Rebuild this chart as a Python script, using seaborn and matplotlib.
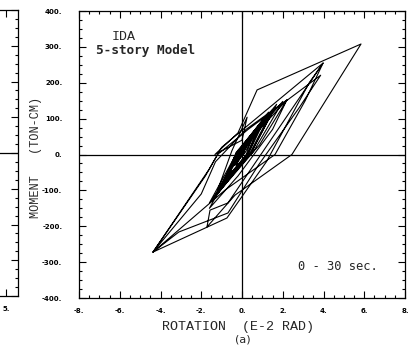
import matplotlib
matplotlib.use("Agg")
import matplotlib.pyplot as plt
import seaborn as sns
import pandas as pd
from matplotlib.ticker import MultipleLocator, FuncFormatter

# ---- data: hysteresis path (rotation E-2 rad, moment ton-cm) ----
rotation = [0.0, 0.1, -0.15, 0.2, -0.1, 0.3, -0.3,
            0.5, 0.2, -0.6,
            -0.3, 0.8, 0.3, -0.8,
            -0.3, 1.0, 0.3, -1.0,
            -0.35, 1.3, 0.25, -1.4,
            -0.2, 1.5, 0.4, -1.3,
            -0.15, 2.0, 0.55, -1.6,
            -0.25, 1.7, 0.45, -1.5,
            0.15, 2.2, 0.85, -1.2,
            -0.5, 0.25, 0.0,
            -1.33, -0.2, 0.74, 5.84, 2.45, -0.34, -1.72, -1.57, -0.69, 3.98, 3.1, 1.62,
            -0.83, -4.37, -1.6, -1.0, -0.1, 3.98, 3.3, 1.2, -0.74, -4.37, -1.8, -1.2, 0.3,
            3.86, 2.8, 0.8, -0.69, -3.1, -4.37, -2.0, -1.3, 0.2, 2.2, 1.5, -0.2, -1.6,
            -0.2, 1.6, 0.4, -1.2, -0.3, 1.1, 0.3, -0.9, -0.15, 0.6, 0.15, -0.4, 0.1, 0.0]
moment = [0, 10, -12, 20, -5, 30, -30,
          50, -2, -55,
          5, 80, 5, -70,
          2, 95, 3, -90,
          -3, 118, -4, -125,
          5, 125, 5, -115,
          6, 148, 7, -135,
          5, 140, 5, -130,
          26, 152, 26, -100,
          10, 104, 40,
          0, 60, 180, 308, 0, -113, -202, -155, -135, 255, 150, 0,
          -99, -272, -40, 20, 63, 255, 200, -20, -177, -272, -60, 0, 70,
          221, 130, -30, -163, -216, -272, -110, -20, 70, 152, 70, -60, -150,
          -5, 130, 0, -105, -5, 100, 5, -80, -5, 55, 5, -30, 5, 0]

x_ticks = [-8, -6, -4, -2, 0, 2, 4, 6, 8]
y_ticks = [-400, -300, -200, -100, 0, 100, 200, 300, 400]

df = pd.DataFrame({"rotation": rotation, "moment": moment})

sns.set_style("ticks")
plt.rcParams["font.family"] = ["DejaVu Sans"]

fig = plt.figure(figsize=(4.16, 3.46), dpi=100)

# ---- partially visible neighbouring panel on the left ----
ax0 = fig.add_axes([-0.740, 0.1445, 0.7837, 0.8266])
ax0.set_xlim(-5.4, 5.4)
ax0.set_ylim(-400, 400)
ax0.axhline(0, color="black", lw=0.9)
ax0.set_xticks([5])
ax0.xaxis.set_minor_locator(MultipleLocator(1))
ax0.yaxis.set_major_locator(MultipleLocator(100))
ax0.yaxis.set_minor_locator(MultipleLocator(25))
ax0.tick_params(which="both", direction="in", right=True, top=True, left=True, bottom=True,
                labelleft=False, labelsize=5, width=0.8, colors="black")
ax0.tick_params(which="major", length=5)
ax0.tick_params(which="minor", length=2.5)
ax0.xaxis.set_major_formatter(FuncFormatter(lambda v, p: f"{int(round(v))}."))
for lab in ax0.get_xticklabels():
    lab.set_fontweight("bold")
ax0.tick_params(axis="x", pad=7)
for s in ax0.spines.values():
    s.set_color("black")
    s.set_linewidth(0.9)

# ---- main panel ----
ax = fig.add_axes([0.1899, 0.1387, 0.7837, 0.8295])
sns.lineplot(data=df, x="rotation", y="moment", sort=False, estimator=None,
             color="black", lw=0.8, ax=ax)
ax.axhline(0, color="black", lw=0.9)
ax.axvline(0, color="black", lw=0.9)
ax.set_xlim(-8, 8)
ax.set_ylim(-400, 400)
ax.set_xticks(x_ticks)
ax.set_yticks(y_ticks)
ax.xaxis.set_minor_locator(MultipleLocator(0.5))
ax.yaxis.set_minor_locator(MultipleLocator(25))
fmt = FuncFormatter(lambda v, p: f"{int(round(v))}.")
ax.xaxis.set_major_formatter(fmt)
ax.yaxis.set_major_formatter(fmt)
ax.tick_params(which="both", direction="in", right=True, top=True, labelsize=5,
               width=0.8, colors="black")
ax.tick_params(which="major", length=5)
ax.tick_params(which="minor", length=2.5)
ax.tick_params(axis="y", pad=12)
ax.tick_params(axis="x", pad=7)
for lab in ax.get_xticklabels() + ax.get_yticklabels():
    lab.set_fontweight("bold")
for s in ax.spines.values():
    s.set_color("black")
    s.set_linewidth(0.9)

ax.set_xlabel("ROTATION  (E-2 RAD)", family="Liberation Mono", fontsize=9.6, va="center")
ax.xaxis.set_label_coords(0.488, -0.101)
ax.set_ylabel("MOMENT   (TON-CM)", family="Liberation Mono", fontsize=8.6, va="center")
ax.yaxis.set_label_coords(-0.132, 0.491)

ax.text(-6.4, 328, "IDA", family="Liberation Mono", fontsize=9.5, va="center", ha="left")
ax.text(-7.17, 291, "5-story Model", family="DejaVu Sans Mono", fontsize=9.2,
        fontweight="bold", va="center", ha="left")
ax.text(2.75, -313, "0 - 30 sec.", family="DejaVu Sans Mono", fontsize=8.7,
        va="center", ha="left")

fig.text(243 / 416, 1 - 340 / 346, "(a)", family="DejaVu Sans", fontsize=8,
         ha="center", va="center")

fig.savefig("out.png", dpi=100)
